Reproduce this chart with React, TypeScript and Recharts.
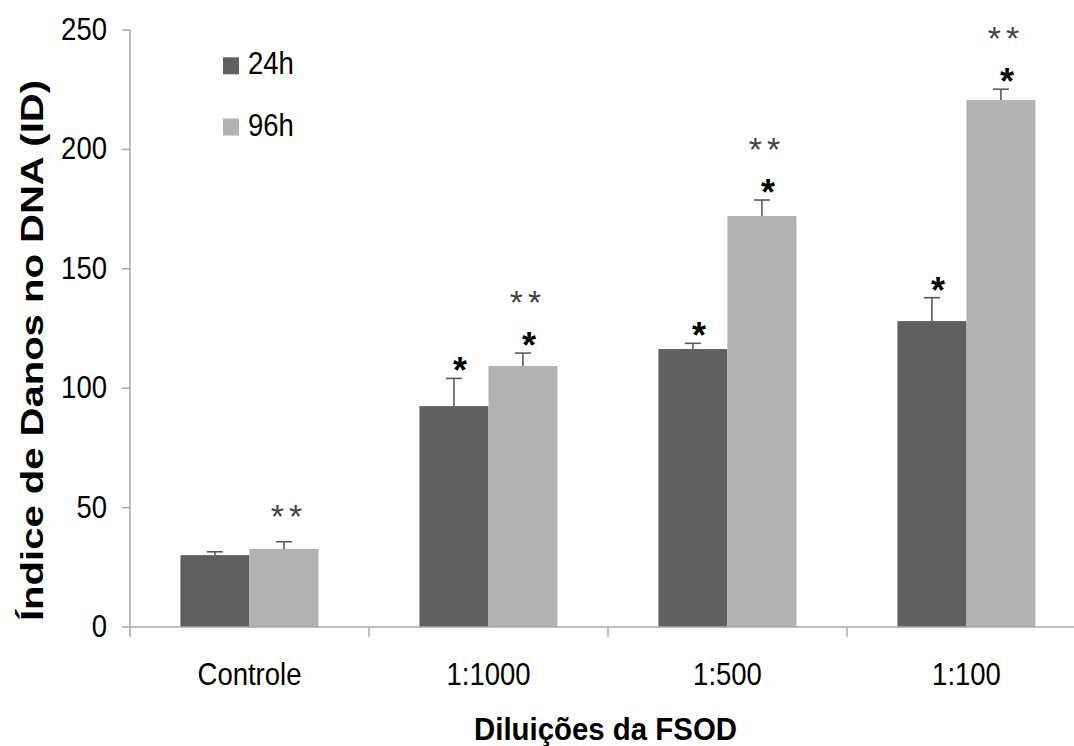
import React from 'react';
import { BarChart, Bar, XAxis, YAxis, Legend, Label } from 'recharts';

// Comet assay: DNA damage index by FSOD dilution and exposure time
const categories = ['Controle', '1:1000', '1:500', '1:100'];
const values24h = [30.1, 92.5, 116.4, 128.1];
const errors24h = [1.4, 11.6, 2.4, 9.8];
const values96h = [32.7, 109.3, 172.1, 220.7];
const errors96h = [3.0, 5.4, 6.7, 4.5];
// significance marks: * vs control, ** vs 24h
const marks24h = ['', '*', '*', '*'];
const marks96h = ['', '*', '*', '*'];
const marks96hVs24h = ['**', '**', '**', '**'];
const yTicks = [0, 50, 100, 150, 200, 250];

const FONT = 'Liberation Sans, Arial, sans-serif';
const AXIS_GRAY = '#a8a8a8';
const COLOR_24H = '#606060';
const COLOR_96H = '#b2b2b2';
const SQUEEZE = 0.86;

const data = categories.map((name, i) => ({
  name,
  h24: values24h[i],
  h96: values96h[i],
  e24: errors24h[i],
  e96: errors96h[i],
  s24: marks24h[i],
  s96: marks96h[i],
  d96: marks96hVs24h[i],
}));

const Squeezed = ({ x, y, size, weight, anchor, fill, children, spacing, sx }: any) => (
  <text
    transform={`translate(${x},${y}) scale(${sx ?? SQUEEZE},1)`}
    textAnchor={anchor || 'middle'}
    fontSize={size}
    fontWeight={weight || 'normal'}
    fontFamily={FONT}
    fill={fill || '#000'}
    letterSpacing={spacing || 0}
  >
    {children}
  </text>
);

const makeShape = (valueKey: string, errKey: string, markKey: string, doubleKey?: string) =>
  (props: any) => {
    const { x, y, width, height, fill, payload } = props;
    const v = payload[valueKey];
    const pxPerUnit = v ? height / v : 0;
    const err = payload[errKey];
    const cx = x + width / 2;
    const errTop = y - err * pxPerUnit;
    const mark = payload[markKey];
    const dbl = doubleKey ? payload[doubleKey] : '';
    const singleCenter = errTop - 14;
    const doubleCenter = mark ? singleCenter - 40 : errTop - 29;
    return (
      <g>
        <rect x={x} y={y} width={width} height={height} fill={fill} />
        <line x1={cx} x2={cx} y1={y} y2={errTop} stroke="#585858" strokeWidth={1.6} />
        <line x1={cx - 8} x2={cx + 8} y1={errTop} y2={errTop} stroke="#585858" strokeWidth={1.6} />
        {mark ? (
          <Squeezed x={cx + 6} y={singleCenter + 19} size={36} weight="bold" sx={1}>{mark}</Squeezed>
        ) : null}
        {dbl ? (
          <Squeezed x={cx + 5} y={doubleCenter + 15} size={34} fill="#444" spacing={5} sx={1}>{dbl}</Squeezed>
        ) : null}
      </g>
    );
  };

const YTick = (props: any) => {
  const { x, y, payload } = props;
  return (
    <Squeezed x={x - 13} y={y + 10} size={32} anchor="end">{payload.value}</Squeezed>
  );
};

const XTick = (props: any) => {
  const { x, y, payload, index, visibleTicksCount, width } = props;
  const half = payload.offset ?? width / visibleTicksCount / 2;
  const axisY = y - 12;
  return (
    <g>
      <line x1={x - half} x2={x - half} y1={axisY} y2={axisY + 10} stroke={AXIS_GRAY} strokeWidth={1.5} />
      {index === visibleTicksCount - 1 ? (
        <line x1={x + half} x2={x + half} y1={axisY} y2={axisY + 10} stroke={AXIS_GRAY} strokeWidth={1.5} />
      ) : null}
      <Squeezed x={x} y={axisY + 58} size={32}>{payload.value}</Squeezed>
    </g>
  );
};

const LegendBox = (props: any) => {
  const items = props.payload || [];
  return (
    <svg width={400} height={160} style={{ display: 'block' }}>
      {items.map((item: any, i: number) => {
        const top = 57.3 + i * 61.2;
        return (
          <g key={item.value}>
            <rect x={223} y={top} width={16} height={17} fill={item.color} />
            <Squeezed x={248} y={top + 17} size={32} anchor="start">{item.value}</Squeezed>
          </g>
        );
      })}
    </svg>
  );
};

export default function App() {
  return (
    <div
      style={{
        position: 'absolute',
        left: 0,
        top: 0,
        width: 1074,
        height: 746,
        overflow: 'hidden',
        background: '#fff',
        fontFamily: FONT,
      }}
    >
      <BarChart
        width={1100}
        height={746}
        data={data}
        margin={{ top: 30, right: 14, left: 70, bottom: 59 }}
        barCategoryGap="21.1%"
        barGap={0}
      >
        <XAxis
          dataKey="name"
          height={60}
          tickLine={false}
          tickSize={10}
          tickMargin={2}
          axisLine={{ stroke: AXIS_GRAY, strokeWidth: 1.5 }}
          tick={<XTick />}
          interval={0}
        >
          <Label
            content={(p: any) => {
              const vb = p.viewBox;
              return (
                <text
                  x={605.5}
                  y={vb.y + 113}
                  textAnchor="middle"
                  fontSize={32}
                  fontWeight="bold"
                  fontFamily={FONT}
                  textLength={263}
                  lengthAdjust="spacingAndGlyphs"
                  fill="#000"
                >
                  Diluições da FSOD
                </text>
              );
            }}
          />
        </XAxis>
        <YAxis
          width={60}
          domain={[0, 250]}
          ticks={yTicks}
          interval={0}
          tickSize={8}
          tickMargin={2}
          axisLine={{ stroke: AXIS_GRAY, strokeWidth: 1.5 }}
          tickLine={{ stroke: AXIS_GRAY, strokeWidth: 1.5 }}
          tick={<YTick />}
        >
          <Label
            content={(p: any) => {
              const vb = p.viewBox;
              const cx = 43;
              const cy = vb.y + vb.height / 2 + 22;
              return (
                <text
                  x={cx}
                  y={cy}
                  transform={`rotate(-90, ${cx}, ${cy})`}
                  textAnchor="middle"
                  fontSize={32}
                  fontWeight="bold"
                  fontFamily={FONT}
                  textLength={541}
                  lengthAdjust="spacingAndGlyphs"
                  fill="#000"
                >
                  Índice de Danos no DNA (ID)
                </text>
              );
            }}
          />
        </YAxis>
        <Legend
          layout="vertical"
          align="center"
          verticalAlign="middle"
          content={<LegendBox />}
          wrapperStyle={{ position: 'absolute', left: 0, top: 0, width: 400, height: 160 }}
        />
        <Bar
          dataKey="h24"
          name="24h"
          fill={COLOR_24H}
          isAnimationActive={false}
          shape={makeShape('h24', 'e24', 's24')}
        />
        <Bar
          dataKey="h96"
          name="96h"
          fill={COLOR_96H}
          isAnimationActive={false}
          shape={makeShape('h96', 'e96', 's96', 'd96')}
        />
      </BarChart>
    </div>
  );
}
